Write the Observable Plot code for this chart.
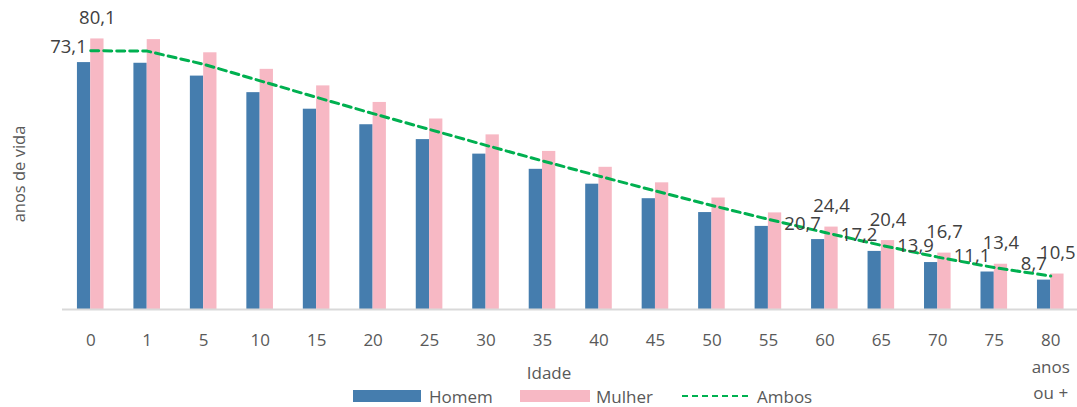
<!DOCTYPE html>
<html>
<head>
<meta charset="utf-8">
<script src="https://cdn.jsdelivr.net/npm/d3@7"></script>
<script src="https://cdn.jsdelivr.net/npm/@observablehq/plot@0.6"></script>
<style>
  html, body { margin: 0; padding: 0; background: #fff; }
  #wrap { position: relative; width: 1077px; height: 407px; font-family: "Open Sans", sans-serif; color: #595959; overflow: hidden; }
  .abs { position: absolute; white-space: nowrap; }
  .ytitle { left: 18px; top: 174px; transform: translate(-50%, -50%) rotate(-90deg); font-size: 16.5px; }
  .xtitle { left: 549px; top: 372px; transform: translate(-50%, -50%); font-size: 17px; }
  .leg-text { font-size: 17px; top: 396px; transform: translateY(-50%); }
  .swatch { top: 390px; height: 12px; }
</style>
</head>
<body>
<div id="wrap">
  <div id="chart"></div>
  <div class="abs ytitle">anos de vida</div>
  <div class="abs xtitle">Idade</div>
  <div class="abs swatch" style="left:353px;width:68px;background:#457dae"></div>
  <div class="abs leg-text" style="left:429px">Homem</div>
  <div class="abs swatch" style="left:520px;width:70px;background:#f7b8c4"></div>
  <div class="abs leg-text" style="left:596px">Mulher</div>
  <svg class="abs" style="left:682px;top:391px" width="70" height="10"><line x1="0" x2="70" y1="5" y2="5" stroke="#00b050" stroke-width="2.2" stroke-dasharray="6,4"/></svg>
  <div class="abs leg-text" style="left:757px">Ambos</div>
</div>
<script>
const categorias = ["0","1","5","10","15","20","25","30","35","40","45","50","55","60","65","70","75","80 anos ou +"];
const homem  = [73.1, 72.9, 69.1, 64.2, 59.3, 54.7, 50.3, 46.0, 41.5, 37.1, 32.8, 28.7, 24.6, 20.7, 17.2, 13.9, 11.1, 8.7];
const mulher = [80.1, 79.9, 76.0, 71.1, 66.2, 61.3, 56.4, 51.7, 46.8, 42.1, 37.5, 33.0, 28.6, 24.4, 20.4, 16.7, 13.4, 10.5];
const ambos  = [76.6, 76.5, 72.6, 67.7, 62.8, 58.0, 53.3, 48.6, 44.0, 39.5, 35.1, 30.8, 26.7, 22.8, 19.0, 15.5, 12.4, 9.9];
const rotulados = ["0","60","65","70","75","80 anos ou +"];

const rows = categorias.map((c, i) => ({idade: c, homem: homem[i], mulher: mulher[i], ambos: ambos[i]}));
const rotRows = rows.filter(d => rotulados.includes(d.idade));
const fmt = v => v.toFixed(1).replace(".", ",");

const W = 1077, H = 407;
const x0 = 62, x1 = 1078.5;
const bw = (x1 - x0) / categorias.length;
const barW = 13.3;

const chart = Plot.plot({
  width: W,
  height: H,
  marginLeft: x0,
  marginRight: W - x1,
  marginTop: 5,
  marginBottom: 98,
  style: {fontFamily: "'Open Sans', sans-serif", background: "transparent", overflow: "visible"},
  x: {domain: categorias, range: [x0, x1], padding: 0, round: false},
  y: {domain: [0, 90], axis: null},
  marks: [
    Plot.barY(rows, {x: "idade", y: "homem", fill: "#457dae", insetLeft: bw / 2 - barW, insetRight: bw / 2}),
    Plot.barY(rows, {x: "idade", y: "mulher", fill: "#f7b8c4", insetLeft: bw / 2, insetRight: bw / 2 - barW}),
    Plot.ruleY([0], {stroke: "#d9d9d9", strokeWidth: 2}),
    Plot.lineY(rows, {x: "idade", y: "ambos", stroke: "#00b050", strokeWidth: 3, strokeDasharray: "8,5"}),
    Plot.text(rotRows, {x: "idade", y: "homem", text: d => fmt(d.homem), textAnchor: "end", dx: -4, dy: -16, fontSize: 18.5, fill: "#404040"}),
    Plot.text(rotRows, {x: "idade", y: "mulher", text: d => fmt(d.mulher), dx: barW / 2, dy: -21, fontSize: 18.5, fill: "#404040"}),
    Plot.axisX({
      tickSize: 0,
      tickPadding: 18,
      fontSize: 17,
      fill: "#595959",
      label: null,
      lineHeight: 1.55,
      tickFormat: d => d === "80 anos ou +" ? "80\nanos\nou +" : d
    })
  ]
});
document.getElementById("chart").appendChild(chart);
</script>
</body>
</html>
